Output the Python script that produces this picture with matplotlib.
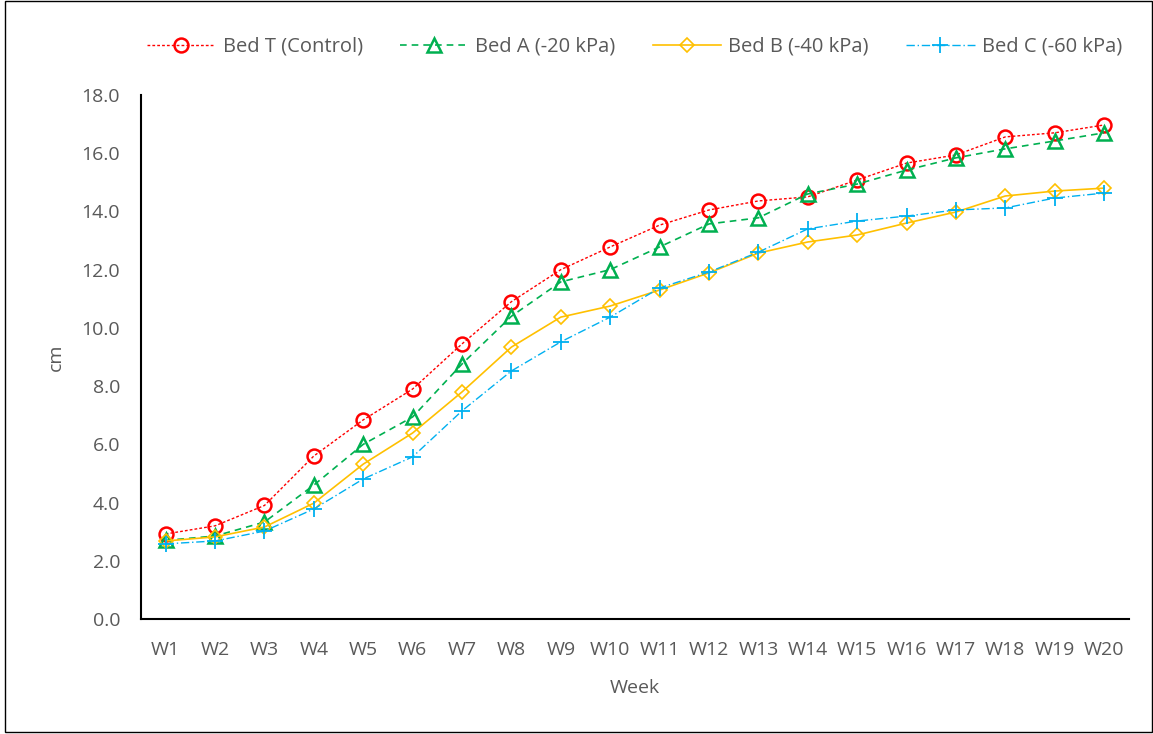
import matplotlib.pyplot as plt
import matplotlib.patches as patches
import numpy as np

weeks = ['W%d' % i for i in range(1, 21)]

bed_t = [2.92, 3.2, 3.9, 5.6, 6.84, 7.9, 9.45, 10.9, 12.0, 12.78,
         13.53, 14.05, 14.36, 14.5, 15.08, 15.66, 15.94, 16.56, 16.7, 16.97]
bed_a = [2.7, 2.85, 3.33, 4.6, 6.0, 6.94, 8.76, 10.4, 11.58, 12.0,
         12.78, 13.57, 13.78, 14.6, 14.94, 15.42, 15.84, 16.15, 16.42, 16.7]
bed_b = [2.68, 2.82, 3.16, 3.98, 5.32, 6.39, 7.8, 9.34, 10.37, 10.75,
         11.3, 11.89, 12.57, 12.95, 13.19, 13.6, 13.98, 14.53, 14.7, 14.8]
bed_c = [2.58, 2.68, 3.02, 3.78, 4.81, 5.57, 7.15, 8.52, 9.52, 10.37,
         11.37, 11.92, 12.6, 13.4, 13.67, 13.84, 14.05, 14.12, 14.46, 14.63]

labels = ['Bed T (Control)', 'Bed A (-20 kPa)', 'Bed B (-40 kPa)', 'Bed C (-60 kPa)']

plt.rcParams['font.family'] = ['Open Sans', 'DejaVu Sans']
grey = '#595959'

fig = plt.figure(figsize=(11.53, 7.34), dpi=100)
ax = fig.add_axes([0.1223, 0.1567, 0.8567, 0.7139])

x = np.arange(1, len(weeks) + 1)

ax.plot(x, bed_t, color='#FF0000', linestyle=(0, (2, 1.5)), linewidth=1.0,
        marker='o', markersize=10, markerfacecolor='none', markeredgewidth=1.8,
        label=labels[0])
ax.plot(x, bed_a, color='#00B050', linestyle=(0, (4, 3)), linewidth=1.2,
        marker='^', markersize=10, markerfacecolor='none', markeredgewidth=1.8,
        label=labels[1])
ax.plot(x, bed_b, color='#FFC000', linestyle='-', linewidth=1.2,
        marker='D', markersize=7, markerfacecolor='none', markeredgewidth=1.2,
        label=labels[2])
ax.plot(x, bed_c, color='#00B0F0', linestyle=(0, (6, 2, 1, 2)), linewidth=1.0,
        marker='+', markersize=11, markeredgewidth=1.3,
        label=labels[3])

ax.set_xlim(0.5, 20.5)
ax.set_ylim(0, 18)
ax.set_yticks(np.arange(0, 18.1, 2))
ax.set_yticklabels(['%.1f' % v for v in np.arange(0, 18.1, 2)])
ax.set_xticks(x)
ax.set_xticklabels(weeks)
ax.tick_params(axis='both', length=0, labelsize=14, colors=grey)
ax.tick_params(axis='x', pad=16)
ax.tick_params(axis='y', pad=15)

for spine in ['right', 'top']:
    ax.spines[spine].set_visible(False)
for spine in ['left', 'bottom']:
    ax.spines[spine].set_color('black')
    ax.spines[spine].set_linewidth(1.5)

ax.set_xlabel('Week', fontsize=14, color=grey, labelpad=14)
ax.set_ylabel('cm', fontsize=14, color=grey, labelpad=12)

fig.legend(loc='center', bbox_to_anchor=(0.5503, 0.936), ncol=4, frameon=False,
           fontsize=14.5, labelcolor=grey, handlelength=3.4, columnspacing=1.85,
           handletextpad=0.35)

fig.add_artist(patches.Rectangle((0.004, 0.003), 0.995, 0.996, transform=fig.transFigure,
                                 fill=False, edgecolor='black', linewidth=1.0))

fig.savefig('out.png', dpi=100)
